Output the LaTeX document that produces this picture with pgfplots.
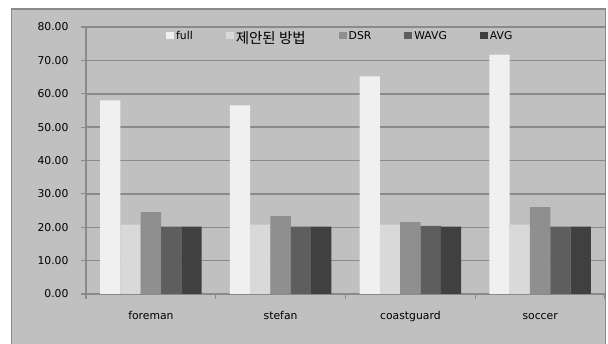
\documentclass[border=0pt]{standalone}
\usepackage{fontspec}
\setmainfont{DejaVu Sans}
\newfontfamily\kr{Noto Sans CJK KR}
\usepackage{pgfplots}
\pgfplotsset{compat=1.18}
\definecolor{bg}{HTML}{C0C0C0}
\definecolor{gridc}{HTML}{8A8A8A}
\definecolor{cfull}{HTML}{F0F0F0}
\definecolor{cprop}{HTML}{D9D9D9}
\definecolor{cdsr}{HTML}{8F8F8F}
\definecolor{cwavg}{HTML}{5E5E5E}
\definecolor{cavg}{HTML}{404040}
\begin{document}
\begin{tikzpicture}
\useasboundingbox (0,0) rectangle (608pt,343pt);
\clip (0,0) rectangle (608pt,343pt);
\fill[white] (0,0) rectangle (608pt,343pt);
\filldraw[fill=bg, draw=gridc, line width=1.5pt] (11.5pt,-10pt) rectangle (605.5pt,334pt);
\begin{axis}[
  at={(86pt,49pt)}, anchor=south west,
  scale only axis, width=519pt, height=267pt,
  xmin=-0.5, xmax=3.5, ymin=0, ymax=80,
  ybar=0pt, bar width=20.3pt,
  axis x line*=bottom, axis y line*=left,
  axis line style={-, draw=gridc, line width=1.5pt},
  ytick={0,10,...,80},
  yticklabel style={/pgf/number format/fixed, /pgf/number format/fixed zerofill, /pgf/number format/precision=2, xshift=-9pt},
  /pgf/number format/assume math mode=true,
  ymajorgrids, major grid style={draw=gridc, line width=1.5pt},
  xtick={-0.5,0.5,1.5,2.5,3.5}, xticklabels={},
  extra x ticks={0,1,2,3},
  extra x tick labels={foreman,stefan,coastguard,soccer},
  extra x tick style={major tick length=0pt, grid=none},
  tick align=outside, major tick length=5pt,
  tick style={draw=gridc, line width=1.2pt},
  xticklabel style={text height=8pt, text depth=2.5pt, yshift=-14pt},
  tick label style={font=\fontsize{10.8}{13}\selectfont},
  legend columns=5,
  legend style={draw=none, fill=none, inner sep=0pt,
    at={(0.154,0.9936)}, anchor=north west,
    font=\fontsize{10.8}{13}\selectfont,
    /tikz/every even column/.append style={column sep=31pt}},
  legend image code/.code={\path[#1, draw=none] (0pt,-3.5pt) rectangle (8pt,3.5pt);},
]
\addplot[fill=cfull, draw=none] coordinates {(0,58.0) (1,56.5) (2,65.2) (3,71.7)};
\addplot[fill=cprop, draw=none] coordinates {(0,20.8) (1,20.8) (2,20.8) (3,20.8)};
\addplot[fill=cdsr, draw=none] coordinates {(0,24.5) (1,23.3) (2,21.5) (3,26.0)};
\addplot[fill=cwavg, draw=none] coordinates {(0,20.2) (1,20.2) (2,20.4) (3,20.2)};
\addplot[fill=cavg, draw=none] coordinates {(0,20.2) (1,20.2) (2,20.2) (3,20.2)};
\legend{full,{\raisebox{-5pt}{\kr\fontsize{14.5}{14.5}\selectfont 제안된 방법}},DSR,WAVG,AVG}
\end{axis}
\end{tikzpicture}
\end{document}
